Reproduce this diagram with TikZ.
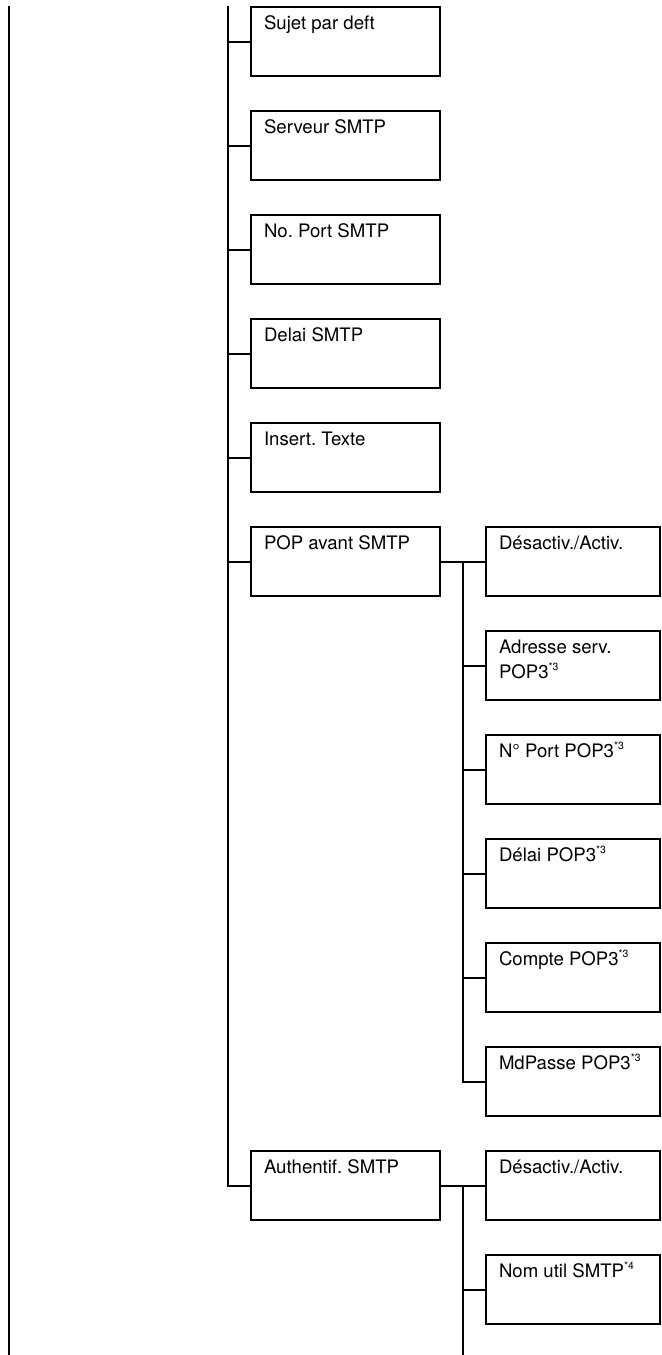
\documentclass[tikz,border=0pt]{standalone}
\usepackage{fontspec}
\setmainfont{TeX Gyre Heros}
\usetikzlibrary{positioning}
\frenchspacing
\newcommand{\boxtext}[2]{\parbox[t][34.5pt][t]{#1}{\raggedright\rule{0pt}{11.3pt}#2}}
\newcommand{\fnref}[1]{\textsuperscript{\fontsize{5.2}{6}\selectfont *#1}}
\begin{document}
\begin{tikzpicture}[
  x=1pt, y=1pt,
  line width=1pt,
  node distance=17.5pt,
  every node/.style={font=\fontsize{9.3}{12.5}\selectfont},
  menubox/.style={draw, inner xsep=6.5pt, inner ysep=0pt, outer sep=0pt},
  mainbox/.style={menubox},
  subbox/.style={menubox}
]
\useasboundingbox (0,0) rectangle (330.5,-677.5);
% lines coming from the upper levels
\coordinate (outer top) at (4.5,-3);
\coordinate (outer bottom) at (4.5,-677.5);
\coordinate (trunk top) at (114,-3);
\draw (outer top) -- (outer bottom);

% main menu column
\node[mainbox, anchor=north west] (m1) at (125.5,-3.5) {\boxtext{81.5pt}{Sujet par deft}};
\node[mainbox, below=of m1] (m2) {\boxtext{81.5pt}{Serveur SMTP}};
\node[mainbox, below=of m2] (m3) {\boxtext{81.5pt}{No. Port SMTP}};
\node[mainbox, below=of m3] (m4) {\boxtext{81.5pt}{Delai SMTP}};
\node[mainbox, below=of m4] (m5) {\boxtext{81.5pt}{Insert. Texte}};
\node[mainbox, below=of m5] (pop) {\boxtext{81.5pt}{POP avant SMTP}};
\node[mainbox, below=6*17.5pt+5*34.5pt of pop] (auth) {\boxtext{81.5pt}{Authentif. SMTP}};

% POP avant SMTP submenu
\node[subbox, right=23pt of pop] (p1) {\boxtext{74pt}{Désactiv./Activ.}};
\node[subbox, below=of p1] (p2) {\boxtext{74pt}{Adresse serv.\\POP3\fnref{3}}};
\node[subbox, below=of p2] (p3) {\boxtext{74pt}{N° Port POP3\fnref{3}}};
\node[subbox, below=of p3] (p4) {\boxtext{74pt}{Délai POP3\fnref{3}}};
\node[subbox, below=of p4] (p5) {\boxtext{74pt}{Compte POP3\fnref{3}}};
\node[subbox, below=of p5] (p6) {\boxtext{74pt}{MdPasse POP3\fnref{3}}};

% Authentif. SMTP submenu
\node[subbox, right=23pt of auth] (a1) {\boxtext{74pt}{Désactiv./Activ.}};
\node[subbox, below=of a1] (a2) {\boxtext{74pt}{Nom util SMTP\fnref{4}}};
\coordinate (sub bottom) at (231.5,-677.5);

% connectors
\draw (trunk top) |- (auth.west);
\foreach \n in {m1,m2,m3,m4,m5,pop}
  \draw (trunk top |- \n.west) -- (\n.west);
\draw (pop.east) -- (p1.west);
\draw (pop.east -| sub bottom) |- (p6.west);
\foreach \n in {p2,p3,p4,p5}
  \draw (sub bottom |- \n.west) -- (\n.west);
\draw (auth.east) -- (a1.west);
\draw (auth.east -| sub bottom) -- (sub bottom);
\draw (sub bottom |- a2.west) -- (a2.west);
\end{tikzpicture}
\end{document}
